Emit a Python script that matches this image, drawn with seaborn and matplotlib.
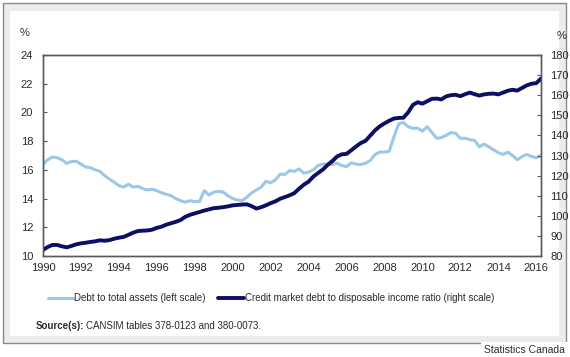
import numpy as np
import pandas as pd
import seaborn as sns
import matplotlib.pyplot as plt
from matplotlib.patches import Rectangle
from matplotlib.lines import Line2D

# Quarterly data, 1990 Q1 to 2016 Q2
quarters = np.arange(1990, 2016.26, 0.25)

# Debt to total assets (left scale, %)
debt_to_assets = [
    16.4, 16.7, 16.9, 16.85,
    16.7, 16.45, 16.58, 16.6,
    16.4, 16.2, 16.15, 16.0,
    15.9, 15.6, 15.35, 15.15,
    14.9, 14.8, 15.0, 14.8,
    14.85, 14.7, 14.6, 14.65,
    14.55, 14.4, 14.3, 14.2,
    14.0, 13.85, 13.75, 13.85,
    13.8, 13.8, 14.55, 14.25,
    14.45, 14.5, 14.45, 14.2,
    14.0, 13.9, 13.85, 14.1,
    14.4, 14.6, 14.8, 15.2,
    15.1, 15.3, 15.7, 15.68,
    15.95, 15.9, 16.07, 15.76,
    15.85, 16.0, 16.3, 16.4,
    16.4, 16.37, 16.46, 16.3,
    16.23, 16.49, 16.4, 16.37,
    16.46, 16.65, 17.07, 17.24,
    17.24, 17.3, 18.3, 19.2,
    19.3, 19.0, 18.9, 18.9,
    18.7, 19.0, 18.6, 18.2,
    18.25, 18.4, 18.6, 18.55,
    18.2, 18.2, 18.1, 18.05,
    17.6, 17.8, 17.6, 17.4,
    17.2, 17.07, 17.24, 17.0,
    16.7, 16.93, 17.07, 16.93,
    16.84, 17.0,
]

# Credit market debt to disposable income ratio (right scale, %)
debt_to_income = [
    83.0, 84.5, 85.5, 85.5,
    84.8, 84.3, 85.0, 85.8,
    86.3, 86.6, 87.0, 87.3,
    87.8, 87.6, 87.9, 88.6,
    89.1, 89.5, 90.5, 91.6,
    92.4, 92.6, 92.7, 93.1,
    94.0, 94.6, 95.6, 96.3,
    97.0, 97.9, 99.5, 100.5,
    101.2, 101.9, 102.6, 103.2,
    103.8, 104.0, 104.3, 104.7,
    105.2, 105.4, 105.6, 105.7,
    104.8, 103.6, 104.3, 105.2,
    106.3, 107.2, 108.5, 109.3,
    110.2, 111.3, 113.5, 115.5,
    117.0, 119.5, 121.3, 123.0,
    125.3, 127.2, 129.5, 130.6,
    130.8, 132.6, 134.5, 136.2,
    137.3, 139.9, 142.5, 144.5,
    146.0, 147.3, 148.4, 148.7,
    148.8, 151.5, 155.2, 156.5,
    155.8, 157.0, 158.2, 158.3,
    157.9, 159.4, 160.0, 160.2,
    159.5, 160.5, 161.3, 160.5,
    159.8, 160.4, 160.7, 160.8,
    160.4, 161.3, 162.2, 162.7,
    162.3, 163.6, 164.9, 165.7,
    166.0, 168.3,
]

year_ticks = list(range(1990, 2017))
year_labels = [str(y) if y % 2 == 0 else "" for y in year_ticks]
left_ticks = list(range(10, 25, 2))
right_ticks = list(range(80, 181, 10))

light_label = "Debt to total assets (left scale)"
dark_label = "Credit market debt to disposable income ratio (right scale)"

light_col = "#9cc8e8"
dark_col = "#0d0f66"
text_col = "#2a2a2a"
spine_col = "#5a5a5a"

sns.set_style("white")
plt.rcParams["font.family"] = ["Liberation Sans", "DejaVu Sans"]

W, H = 570, 357
fig = plt.figure(figsize=(W / 100, H / 100), dpi=100)

# outer frame with light grey margin
fig.patches.append(Rectangle((3 / W, 1 - 343 / H), 563 / W, 340 / H, transform=fig.transFigure,
                             facecolor="#ececec", edgecolor="#8a8a8a", lw=1.0, zorder=-5))
fig.patches.append(Rectangle((10 / W, 1 - 336 / H), 549 / W, 325 / H, transform=fig.transFigure,
                             facecolor="white", edgecolor="none", zorder=-4))

ax = fig.add_axes([43 / W, 1 - 256 / H, 498 / W, 201 / H])
ax.patch.set_alpha(0)

df = pd.DataFrame({"t": quarters, "assets": debt_to_assets, "income": debt_to_income})

sns.lineplot(data=df, x="t", y="assets", ax=ax, color=light_col, lw=2.2)
ax2 = ax.twinx()
ax2.patch.set_alpha(0)
sns.lineplot(data=df, x="t", y="income", ax=ax2, color=dark_col, lw=2.8)

ax.set_xlim(1990, 2016.25)
ax.set_ylim(10, 24)
ax2.set_ylim(80, 180)
ax.set_xticks(year_ticks)
ax.set_xticklabels(year_labels)
ax.set_yticks(left_ticks)
ax2.set_yticks(right_ticks)
for a in (ax, ax2):
    a.set_xlabel("")
    a.set_ylabel("")
    for s in a.spines.values():
        s.set_color(spine_col)
        s.set_linewidth(1.0)
        s.set_visible(True)
ax.tick_params(axis="x", direction="in", length=3, width=0.8, color=spine_col,
               labelsize=8, labelcolor=text_col, pad=5)
ax.tick_params(axis="y", direction="in", length=3, width=0.8, color=spine_col,
               labelsize=8, labelcolor=text_col, pad=7)
ax2.tick_params(axis="y", direction="in", length=3, width=0.8, color=spine_col,
                labelsize=8, labelcolor=text_col, pad=6.5)

fig.text(25 / W, 1 - 33 / H, "%", fontsize=8, color=text_col, ha="center", va="center")
fig.text(562 / W, 1 - 36 / H, "%", fontsize=8, color=text_col, ha="center", va="center")

handles = [Line2D([], [], color=light_col, lw=2.2), Line2D([], [], color=dark_col, lw=2.8)]
fig.legend(handles, [light_label, dark_label], loc="center", bbox_to_anchor=(271 / W, 1 - 298 / H),
           ncol=2, frameon=False, fontsize=7, handlelength=2.6, handletextpad=0.1,
           columnspacing=1.3, labelcolor=text_col)

src = fig.text(36 / W, 1 - 326 / H, "Source(s):", fontsize=7, fontweight="bold", color=text_col,
               ha="left", va="center")
fig.canvas.draw()
bb = src.get_window_extent()
fig.text((bb.x1 + 2) / W, 1 - 326 / H, "CANSIM tables 378-0123 and 380-0073.", fontsize=7,
         color=text_col, ha="left", va="center")

fig.text(565 / W, 1 - 350 / H, "Statistics Canada", fontsize=7.5, color=text_col, ha="right",
         va="center", bbox=dict(facecolor="white", edgecolor="none", pad=2))

fig.savefig("out.png", dpi=100)
